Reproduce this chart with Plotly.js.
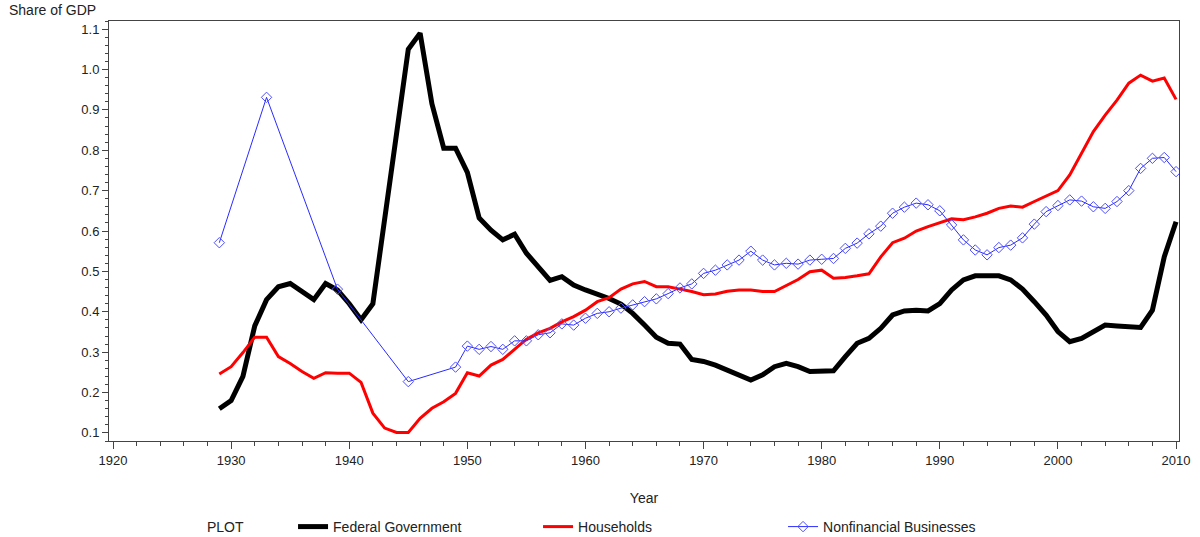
<!DOCTYPE html>
<html>
<head>
<meta charset="utf-8">
<script src="https://cdn.plot.ly/plotly-3.0.1.min.js"></script>
<style>
  html, body { margin: 0; padding: 0; background: #fff; }
  #chart { width: 1200px; height: 537px; }
</style>
</head>
<body>
<div id="chart"></div>
<script>
// ---- Data ----
var yearsAnnual = [1929,1930,1931,1932,1933,1934,1935,1936,1937,1938,1939,
  1940,1941,1942,1943,1944,1945,1946,1947,1948,1949,
  1950,1951,1952,1953,1954,1955,1956,1957,1958,1959,
  1960,1961,1962,1963,1964,1965,1966,1967,1968,1969,
  1970,1971,1972,1973,1974,1975,1976,1977,1978,1979,
  1980,1981,1982,1983,1984,1985,1986,1987,1988,1989,
  1990,1991,1992,1993,1994,1995,1996,1997,1998,1999,
  2000,2001,2002,2003,2004,2005,2006,2007,2008,2009,2010];

var federalGovernment = [0.160,0.180,0.240,0.365,0.430,0.462,0.470,0.450,0.430,0.470,0.454,
  0.420,0.380,0.420,0.620,0.840,1.050,1.090,0.915,0.805,0.805,
  0.745,0.632,0.602,0.578,0.592,0.545,0.512,0.478,0.487,0.466,
  0.454,0.444,0.433,0.419,0.396,0.367,0.337,0.322,0.320,0.282,
  0.277,0.268,0.256,0.244,0.231,0.244,0.264,0.272,0.264,0.252,
  0.254,0.254,0.289,0.322,0.334,0.359,0.392,0.402,0.404,0.402,
  0.420,0.454,0.479,0.489,0.489,0.489,0.479,0.456,0.425,0.392,
  0.351,0.326,0.334,0.352,0.367,0.365,0.362,0.361,0.404,0.536,0.623];

var households = [0.246,0.264,0.299,0.337,0.337,0.289,0.272,0.252,0.235,0.249,0.248,
  0.248,0.225,0.149,0.112,0.101,0.101,0.136,0.161,0.177,0.198,
  0.249,0.241,0.268,0.282,0.307,0.332,0.348,0.359,0.375,0.388,
  0.404,0.425,0.435,0.456,0.469,0.475,0.462,0.462,0.456,0.450,
  0.442,0.444,0.451,0.454,0.454,0.450,0.450,0.466,0.480,0.499,
  0.503,0.483,0.485,0.489,0.494,0.536,0.571,0.582,0.600,0.611,
  0.621,0.630,0.628,0.635,0.644,0.656,0.662,0.659,0.673,0.687,
  0.700,0.739,0.792,0.846,0.887,0.924,0.966,0.986,0.971,0.979,0.926];

var yearsBusiness = [1929,1933,1939,1945,1949,
  1950,1951,1952,1953,1954,1955,1956,1957,1958,1959,
  1960,1961,1962,1963,1964,1965,1966,1967,1968,1969,
  1970,1971,1972,1973,1974,1975,1976,1977,1978,1979,
  1980,1981,1982,1983,1984,1985,1986,1987,1988,1989,
  1990,1991,1992,1993,1994,1995,1996,1997,1998,1999,
  2000,2001,2002,2003,2004,2005,2006,2007,2008,2009,2010];

var nonfinancialBusinesses = [0.571,0.931,0.456,0.227,0.263,
  0.315,0.307,0.314,0.307,0.328,0.328,0.343,0.348,0.370,0.367,
  0.384,0.396,0.400,0.409,0.417,0.425,0.432,0.445,0.459,0.469,
  0.495,0.503,0.516,0.528,0.550,0.528,0.516,0.520,0.518,0.528,
  0.530,0.532,0.557,0.570,0.593,0.612,0.644,0.659,0.669,0.665,
  0.650,0.615,0.578,0.553,0.541,0.559,0.565,0.583,0.617,0.648,
  0.663,0.677,0.674,0.660,0.656,0.673,0.700,0.755,0.780,0.782,0.747];

var seriesNames = ["Federal Government", "Households", "Nonfinancial Businesses"];
var xTickVals = [1920,1930,1940,1950,1960,1970,1980,1990,2000,2010];
var yTickVals = [0.1,0.2,0.3,0.4,0.5,0.6,0.7,0.8,0.9,1.0,1.1];

// ---- Chart ----
var FONT = "Liberation Sans, Arial, sans-serif";
var AXC = "#444444";
var TXT = "#222222";

var traces = [
  { x: yearsAnnual, y: federalGovernment, name: seriesNames[0], type: "scatter", mode: "lines",
    line: { color: "#000000", width: 5 } },
  { x: yearsAnnual, y: households, name: seriesNames[1], type: "scatter", mode: "lines",
    line: { color: "#ff0000", width: 3 } },
  { x: yearsBusiness, y: nonfinancialBusinesses, name: seriesNames[2], type: "scatter", mode: "lines+markers",
    line: { color: "#2a2aff", width: 1 },
    marker: { symbol: "diamond-open", size: 8, color: "#4d4dff", line: { width: 1, color: "#4d4dff" } } }
];

var layout = {
  width: 1200, height: 537,
  paper_bgcolor: "#ffffff", plot_bgcolor: "#ffffff",
  margin: { l: 109, r: 21, t: 21, b: 96, pad: 0, autoexpand: false },
  font: { family: FONT, size: 13, color: TXT },
  showlegend: true,
  legend: {
    orientation: "h", xref: "paper", x: 0.172, xanchor: "left",
    yref: "paper", y: (441 - 527) / 420, yanchor: "middle",
    font: { size: 14, family: FONT, color: TXT },
    entrywidth: 200, entrywidthmode: "pixels",
    traceorder: "normal", bgcolor: "rgba(0,0,0,0)"
  },
  xaxis: {
    range: [1919.66, 2010.25], tickvals: xTickVals, ticktext: xTickVals.map(String),
    ticks: "outside", ticklen: 7, tickwidth: 1, tickcolor: AXC,
    minor: { dtick: 2, tick0: 1920, ticks: "outside", ticklen: 4, tickcolor: AXC, tickwidth: 1, showgrid: false },
    showline: true, linecolor: AXC, linewidth: 1, mirror: true,
    showgrid: false, zeroline: false,
    tickfont: { size: 13, family: FONT, color: TXT },
    title: { text: "Year", font: { size: 14, family: FONT, color: TXT }, standoff: 26 }
  },
  yaxis: {
    range: [0.080, 1.120], tickvals: yTickVals, tickformat: ".1f",
    ticks: "outside", ticklen: 6, tickwidth: 1, tickcolor: AXC,
    minor: { dtick: 0.02, tick0: 0.1, ticks: "outside", ticklen: 3, tickcolor: AXC, tickwidth: 1, showgrid: false },
    showline: true, linecolor: AXC, linewidth: 1, mirror: true,
    showgrid: false, zeroline: false,
    tickfont: { size: 13, family: FONT, color: TXT }
  },
  annotations: [
    { text: "Share of GDP", xref: "paper", yref: "paper", x: -0.095, y: 1.0, xanchor: "left", yanchor: "bottom",
      yshift: 1, showarrow: false, font: { size: 14, family: FONT, color: TXT } },
    { text: "PLOT", xref: "paper", yref: "paper", x: (205 - 109) / 1070, y: (441 - 527) / 420,
      xanchor: "left", yanchor: "middle", showarrow: false, font: { size: 14, family: FONT, color: TXT } }
  ]
};

Plotly.newPlot("chart", traces, layout, { displayModeBar: false, staticPlot: true });
</script>
</body>
</html>
